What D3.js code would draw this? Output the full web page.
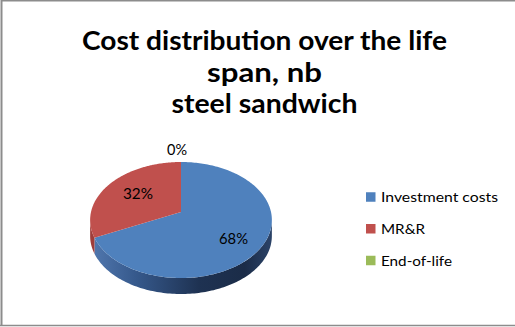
<!DOCTYPE html>
<html>
<head>
<meta charset="utf-8">
<script src="https://cdn.jsdelivr.net/npm/d3@7"></script>
<style>
  html, body { margin: 0; padding: 0; background: #fff; }
  svg { display: block; }
  text { font-family: Lato, "Open Sans", sans-serif; }
</style>
</head>
<body>
<svg id="chart" width="515" height="327"></svg>
<script>
// Chart data
const titleLines = ["Cost distribution over the life", "span, nb", "steel sandwich"];
const categories = ["Investment costs", "MR&R", "End-of-life"];
const shares = [68, 32, 0];
const topColors = ["#4f81bd", "#c0504d", "#9bbb59"];

const W = 515, H = 327;
const svg = d3.select("#chart");

// Fit a text run to a set width by stretching glyphs
function fit(sel, width) {
  return sel.attr("textLength", width).attr("lengthAdjust", "spacingAndGlyphs");
}

// Frame
svg.append("rect").attr("x", 0).attr("y", 0).attr("width", W).attr("height", H).attr("fill", "#fff");
svg.append("path").attr("d", `M1.5,326 V0.5 H${W}`).attr("fill", "none").attr("stroke", "#8c8c8c").attr("stroke-width", 2);
svg.append("line").attr("x1", 0).attr("x2", W).attr("y1", 325.5).attr("y2", 325.5).attr("stroke", "#8c8c8c").attr("stroke-width", 1.5);

// Title
const titleWidths = [365, 115, 186];
const titleBase = [50, 82, 113];
titleLines.forEach((t, i) => {
  fit(svg.append("text").attr("x", 264.5).attr("y", titleBase[i]).attr("text-anchor", "middle")
    .attr("font-weight", "bold").attr("font-size", 26).attr("fill", "#000").text(t), titleWidths[i]);
});

// Pie geometry: a tilted disc with a mild perspective
const cx = 181, cy = 212, rx = 90, ry = 56.9, k = 0.138, depth = 16;
const proj = (a) => {           // a: angle clockwise from 12 o'clock, radians
  const u = Math.sin(a), v = -Math.cos(a);
  const s = 1 / (1 - k * v);
  return [cx + rx * u * s, cy + ry * v * s];
};

const pie = d3.pie().sort(null).value(d => d)(shares);

// Front silhouette: leftmost and rightmost points of the rim
const N = 720;
let aLeft = 0, aRight = 0, minX = Infinity, maxX = -Infinity;
for (let i = 0; i < N; i++) {
  const a = (i / N) * 2 * Math.PI;
  const [x] = proj(a);
  if (x < minX) { minX = x; aLeft = a; }
  if (x > maxX) { maxX = x; aRight = a; }
}
const defs = svg.append("defs");
const gBlue = defs.append("linearGradient").attr("id", "sideBlue").attr("gradientUnits", "userSpaceOnUse")
  .attr("x1", minX).attr("x2", maxX).attr("y1", 0).attr("y2", 0);
[["0%", "#5279b0"], ["25%", "#36598c"], ["60%", "#1e3252"], ["85%", "#1b2c48"], ["100%", "#2b4368"]]
  .forEach(([o, c]) => gBlue.append("stop").attr("offset", o).attr("stop-color", c));
const gRed = defs.append("linearGradient").attr("id", "sideRed").attr("gradientUnits", "userSpaceOnUse")
  .attr("x1", minX).attr("x2", maxX).attr("y1", 0).attr("y2", 0);
[["0%", "#a03d3a"], ["100%", "#5e1d1b"]]
  .forEach(([o, c]) => gRed.append("stop").attr("offset", o).attr("stop-color", c));
const sideFill = ["url(#sideBlue)", "url(#sideRed)", "#6f8a3c"];

function arcPoints(a0, a1, steps) {
  const pts = [];
  for (let i = 0; i <= steps; i++) pts.push(proj(a0 + (a1 - a0) * i / steps));
  return pts;
}

// Sides (front arc runs clockwise from the rightmost to the leftmost rim point)
pie.forEach((d, i) => {
  const lo = Math.max(d.startAngle, aRight), hi = Math.min(d.endAngle, aLeft);
  if (hi <= lo) return;
  const top = arcPoints(lo, hi, 120);
  const bottom = top.map(([x, y]) => [x, y + depth]).reverse();
  svg.append("path").attr("d", "M" + top.concat(bottom).map(p => p.join(",")).join("L") + "Z")
    .attr("fill", sideFill[i]);
});

// Top faces
pie.forEach((d, i) => {
  if (d.endAngle - d.startAngle <= 0) return;
  const pts = [[cx, cy]].concat(arcPoints(d.startAngle, d.endAngle, 200));
  svg.append("path").attr("d", "M" + pts.map(p => p.join(",")).join("L") + "Z")
    .attr("fill", topColors[i]);
});

// Value labels
const labelPos = [[233.5, 244], [138, 199], [177, 155]];
const labelWidths = [29, 30, 20];
pie.forEach((d, i) => {
  fit(svg.append("text").attr("x", labelPos[i][0]).attr("y", labelPos[i][1])
    .attr("text-anchor", "middle").attr("font-size", 15).attr("fill", "#000")
    .text(Math.round(d.data) + "%"), labelWidths[i]);
});

// Legend
const ly = d3.scalePoint().domain(categories).range([197, 260.5]);
const legendWidths = [117, 44, 71];
categories.forEach((c, i) => {
  svg.append("rect").attr("x", 366).attr("y", ly(c) - 4.75).attr("width", 9.5).attr("height", 9.5)
    .attr("fill", topColors[i]);
  fit(svg.append("text").attr("x", 381).attr("y", ly(c) + 5).attr("font-size", 14).attr("fill", "#000")
    .text(c), legendWidths[i]);
});
</script>
</body>
</html>
